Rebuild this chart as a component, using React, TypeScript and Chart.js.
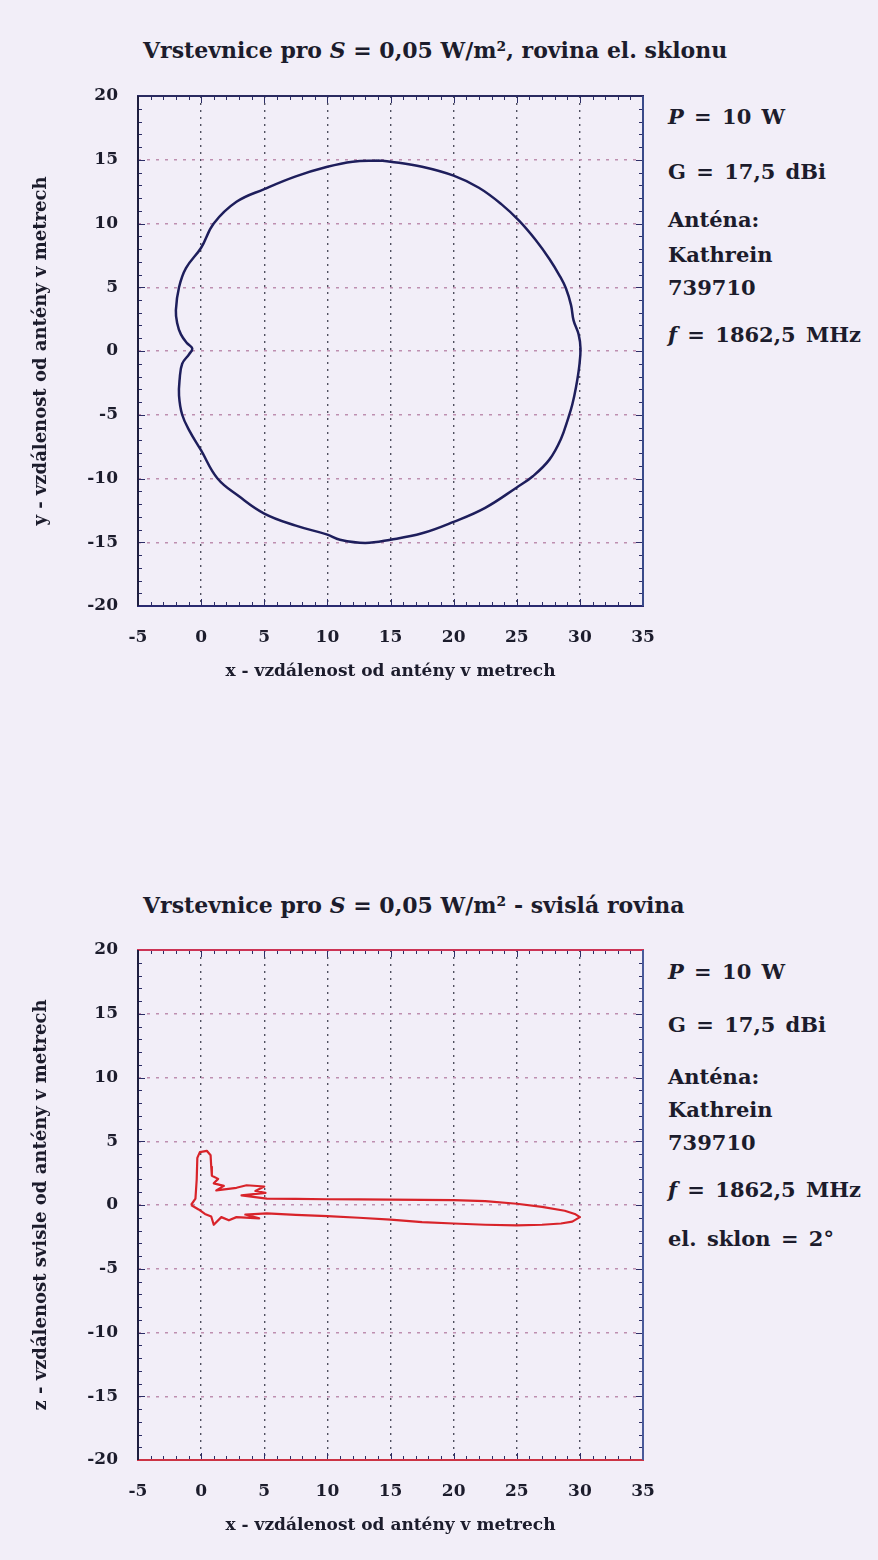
import React, { useEffect, useRef } from "react";
import { Chart, registerables } from "chart.js";

Chart.register(...registerables);

// ---------- data ----------
const X_TICKS = [-5, 0, 5, 10, 15, 20, 25, 30, 35];
const Y_TICKS = [-20, -15, -10, -5, 0, 5, 10, 15, 20];

// contour in the plane of electrical tilt (x, y in metres)
const horizX = [14, 15, 17.5, 20, 22, 23.8, 25.2, 26.5, 27.6, 28.4, 28.9, 29.3, 29.5, 29.9, 30.05, 29.95, 29.7, 29.4, 29.1, 28.5, 27.6, 26.3, 25, 22.5, 20, 17.5, 15, 13, 11, 10, 7.5, 5, 3, 1.3, 0, -0.9, -1.5, -1.75, -1.7, -1.5, -0.95, -0.7, -1.1, -1.6, -1.9, -2.0, -1.75, -1.2, 0, 1.0, 2.8, 5, 7.5, 10, 12, 14];
const horizY = [14.95, 14.85, 14.45, 13.75, 12.8, 11.5, 10.2, 8.7, 7.2, 5.9, 4.9, 3.6, 2.4, 1.3, 0.2, -1.2, -2.8, -4.2, -5.2, -6.9, -8.5, -9.8, -10.7, -12.3, -13.4, -14.3, -14.8, -15.05, -14.8, -14.4, -13.7, -12.75, -11.4, -10, -7.8, -6.3, -5, -3.5, -2.2, -1.0, -0.25, 0.2, 0.6, 1.3, 2.2, 3.2, 5, 6.5, 8.1, 10, 11.7, 12.7, 13.7, 14.45, 14.85, 14.95];

// contour in the vertical plane (x, z in metres)
const vertX = [-0.8, -0.45, -0.35, -0.3, -0.1, 0.45, 0.75, 0.8, 0.85, 1.35, 1.0, 1.8, 1.2, 2.8, 3.6, 5.0, 4.3, 5.1, 3.2, 5.2, 7.5, 10, 12.5, 15, 17.5, 20, 22.5, 25, 27, 28.8, 29.6, 30.0, 29.4, 28.5, 27, 25, 22.5, 20, 17.5, 15, 12.5, 10, 7.5, 5.2, 3.5, 4.6, 2.8, 2.2, 1.6, 1.0, 0.8, 0.3, -0.2, -0.8];
const vertZ = [0.0, 0.5, 2.0, 3.7, 4.15, 4.25, 3.9, 3.0, 2.3, 2.05, 1.7, 1.5, 1.15, 1.35, 1.55, 1.45, 1.1, 0.95, 0.75, 0.5, 0.48, 0.45, 0.44, 0.42, 0.4, 0.38, 0.3, 0.1, -0.15, -0.45, -0.7, -0.95, -1.3, -1.45, -1.55, -1.6, -1.55, -1.45, -1.35, -1.15, -1.0, -0.88, -0.78, -0.65, -0.75, -1.05, -0.95, -1.2, -0.95, -1.55, -0.9, -0.7, -0.35, 0.0];

const infoTop = ["P = 10 W", "G = 17,5 dBi", "Anténa:", "Kathrein", "739710", "f = 1862,5 MHz"];
const infoBottom = ["P = 10 W", "G = 17,5 dBi", "Anténa:", "Kathrein", "739710", "f = 1862,5 MHz", "el. sklon = 2°"];

// ---------- style ----------
const FONT = "'DejaVu Serif', 'Liberation Serif', serif";
const BG = "#F2EEF8";
const TEXT = "#1c1c2c";

type Edges = { top: string; bottom: string; left: string; right: string };

function framePlugin(edges: Edges) {
  return {
    id: "frame",
    afterDraw(chart: any) {
      const { ctx, chartArea } = chart;
      const { left, right, top, bottom } = chartArea;
      const sx = chart.scales.x;
      const sy = chart.scales.y;
      ctx.save();
      ctx.lineWidth = 1;
      ctx.strokeStyle = "#2d2d66";
      for (let v = X_TICKS[0]; v <= X_TICKS[X_TICKS.length - 1]; v++) {
        const p = Math.round(sx.getPixelForValue(v)) + 0.5;
        const len = v % 5 === 0 ? 7 : 4;
        ctx.beginPath();
        ctx.moveTo(p, top);
        ctx.lineTo(p, top + len);
        ctx.moveTo(p, bottom);
        ctx.lineTo(p, bottom - len);
        ctx.stroke();
      }
      for (let v = Y_TICKS[0]; v <= Y_TICKS[Y_TICKS.length - 1]; v++) {
        const p = Math.round(sy.getPixelForValue(v)) + 0.5;
        const len = v % 5 === 0 ? 7 : 4;
        ctx.beginPath();
        ctx.moveTo(left, p);
        ctx.lineTo(left + len, p);
        ctx.moveTo(right, p);
        ctx.lineTo(right - len, p);
        ctx.stroke();
      }
      ctx.lineWidth = 2;
      const seg = (c: string, x1: number, y1: number, x2: number, y2: number) => {
        ctx.strokeStyle = c;
        ctx.beginPath();
        ctx.moveTo(x1, y1);
        ctx.lineTo(x2, y2);
        ctx.stroke();
      };
      seg(edges.top, left - 1, top, right + 1, top);
      seg(edges.bottom, left - 1, bottom, right + 1, bottom);
      seg(edges.left, left, top, left, bottom);
      seg(edges.right, right, top, right, bottom);
      ctx.restore();
    },
  };
}

function makeChart(
  canvas: HTMLCanvasElement,
  xs: number[],
  ys: number[],
  color: string,
  width: number,
  tension: number,
  yTitle: string,
  edges: Edges
) {
  const points = xs.map((x, i) => ({ x, y: ys[i] }));
  return new Chart(canvas, {
    type: "scatter",
    data: {
      datasets: [
        {
          data: points,
          showLine: true,
          borderColor: color,
          backgroundColor: color,
          borderWidth: width,
          borderJoinStyle: "round",
          pointRadius: 0,
          tension,
          fill: false,
        },
      ],
    },
    options: {
      animation: false,
      responsive: false,
      maintainAspectRatio: false,
      layout: { padding: { left: 0, top: 26, right: 17, bottom: 0 } },
      plugins: { legend: { display: false }, tooltip: { enabled: false }, title: { display: false } },
      scales: {
        x: {
          type: "linear",
          min: X_TICKS[0],
          max: X_TICKS[X_TICKS.length - 1],
          afterFit: (s: any) => {
            s.height = 94;
            s.paddingLeft = 0;
            s.paddingRight = 0;
          },
          afterBuildTicks: (s: any) => {
            s.ticks = X_TICKS.map((v) => ({ value: v }));
          },
          ticks: {
            padding: 21,
            color: TEXT,
            font: { family: FONT, size: 17, weight: "bold" },
          },
          grid: { color: "#505060", lineWidth: 1.4, drawTicks: false },
          border: { display: false, dash: [2, 5] },
          title: {
            display: true,
            text: "x - vzdálenost od antény v metrech",
            color: TEXT,
            font: { family: FONT, size: 17, weight: "bold" },
            padding: { top: 0, bottom: 18 },
          },
        },
        y: {
          type: "linear",
          min: Y_TICKS[0],
          max: Y_TICKS[Y_TICKS.length - 1],
          afterFit: (s: any) => {
            s.width = 138;
            s.paddingTop = 0;
            s.paddingBottom = 0;
          },
          afterBuildTicks: (s: any) => {
            s.ticks = Y_TICKS.map((v) => ({ value: v }));
          },
          ticks: {
            padding: 20,
            color: TEXT,
            font: { family: FONT, size: 17, weight: "bold" },
          },
          grid: { color: "#be8fb0", lineWidth: 1.4, drawTicks: false },
          border: { display: false, dash: [3, 6] },
          title: {
            display: true,
            text: yTitle,
            color: TEXT,
            font: { family: FONT, size: 18, weight: "bold" },
            padding: { top: 31, bottom: 0 },
          },
        },
      },
    } as any,
    plugins: [framePlugin(edges)],
  });
}

function PlotCanvas(props: {
  top: number;
  xs: number[];
  ys: number[];
  color: string;
  width: number;
  tension: number;
  yTitle: string;
  edges: Edges;
}) {
  const ref = useRef<HTMLCanvasElement | null>(null);
  useEffect(() => {
    if (!ref.current) return;
    const ch = makeChart(ref.current, props.xs, props.ys, props.color, props.width, props.tension, props.yTitle, props.edges);
    return () => ch.destroy();
  }, []);
  return (
    <canvas
      ref={ref}
      width={660}
      height={630}
      style={{ position: "absolute", left: 0, top: props.top, width: 660, height: 630 }}
    />
  );
}

function Label(props: { x: number; cy: number; size: number; ws?: number; children: React.ReactNode }) {
  return (
    <div
      style={{
        position: "absolute",
        left: props.x,
        top: props.cy - props.size * 0.6,
        fontFamily: FONT,
        fontWeight: "bold",
        fontSize: props.size,
        lineHeight: `${props.size * 1.2}px`,
        wordSpacing: props.ws || 0,
        color: TEXT,
        whiteSpace: "nowrap",
      }}
    >
      {props.children}
    </div>
  );
}

function infoLine(t: string) {
  if (t.startsWith("P ")) return (<><i>P</i>{t.slice(1)}</>);
  if (t.startsWith("f ")) return (<><i>f</i>{t.slice(1)}</>);
  return t;
}

const topInfoY = [117, 172, 220, 255, 288, 335];
const bottomInfoY = [972, 1025, 1077, 1110, 1143, 1190, 1239];

export default function App() {
  return (
    <div style={{ position: "absolute", left: 0, top: 0, width: 878, height: 1560, background: BG, overflow: "hidden" }}>
      <Label x={143} cy={50} size={22}>
        Vrstevnice pro <i>S</i> = 0,05 W/m², rovina el. sklonu
      </Label>
      <PlotCanvas
        top={70}
        xs={horizX}
        ys={horizY}
        color="#1e1e5c"
        width={2.5}
        tension={0.4}
        yTitle="y - vzdálenost od antény v metrech"
        edges={{ top: "#2a2a60", bottom: "#2a2a70", left: "#1e1e40", right: "#3a4a8a" }}
      />
      {infoTop.map((t, i) => (
        <Label key={"t" + i} x={668} cy={topInfoY[i]} size={21} ws={3}>
          {infoLine(t)}
        </Label>
      ))}

      <Label x={143} cy={905} size={22}>
        Vrstevnice pro <i>S</i> = 0,05 W/m² - svislá rovina
      </Label>
      <PlotCanvas
        top={924}
        xs={vertX}
        ys={vertZ}
        color="#d8232a"
        width={2.2}
        tension={0}
        yTitle="z - vzdálenost svisle od antény v metrech"
        edges={{ top: "#cc3355", bottom: "#cc3344", left: "#1e1e40", right: "#4a5a9a" }}
      />
      {infoBottom.map((t, i) => (
        <Label key={"b" + i} x={668} cy={bottomInfoY[i]} size={21} ws={3}>
          {infoLine(t)}
        </Label>
      ))}
    </div>
  );
}
